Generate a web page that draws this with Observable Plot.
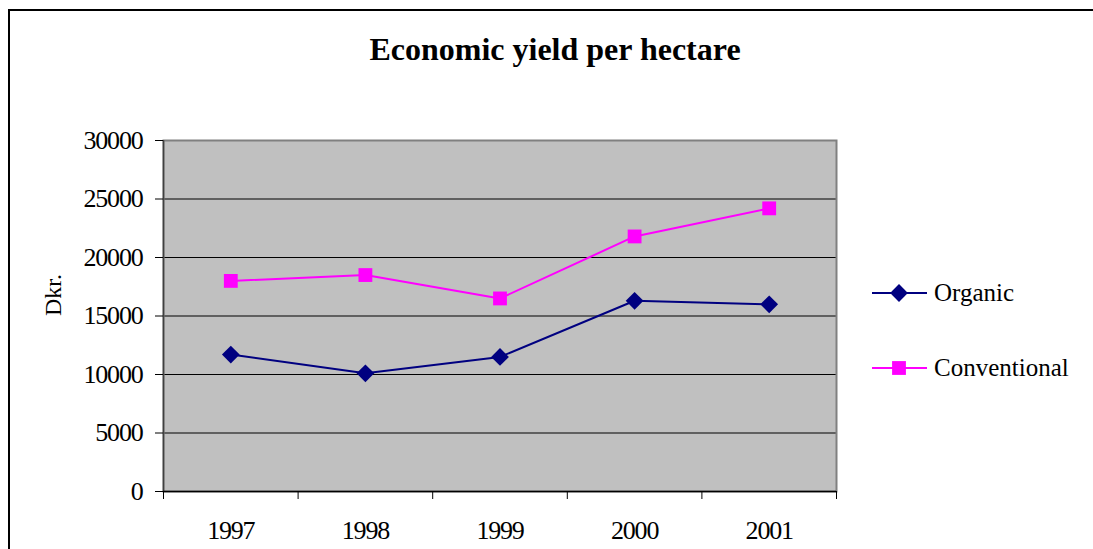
<!DOCTYPE html>
<html>
<head>
<meta charset="utf-8">
<script src="https://cdn.jsdelivr.net/npm/d3@7"></script>
<script src="https://cdn.jsdelivr.net/npm/@observablehq/plot@0.6"></script>
<style>
  html, body { margin: 0; padding: 0; background: #fff; }
  #wrap { position: relative; width: 1093px; height: 549px; overflow: hidden; font-family: "Liberation Serif", "Times New Roman", serif; }
  #frame { position: absolute; left: 8px; top: 9px; width: 1200px; height: 700px; border-top: 2px solid #000; border-left: 2px solid #000; box-sizing: border-box; }
  #chart { position: absolute; left: 0; top: 0; }
  #chart svg text { font-family: "Liberation Serif", "Times New Roman", serif; fill: #000; }
  #chart svg [aria-label="y-axis tick label"] text, #chart svg [aria-label="x-axis tick label"] text { font-size: 26px; letter-spacing: -1.2px; }
  #title { position: absolute; left: 0; width: 1110px; top: 33px; text-align: center; font-weight: bold; font-size: 32px; line-height: 32px; color: #000; }
  .leg { position: absolute; left: 870px; height: 30px; display: flex; align-items: center; font-size: 25px; color: #000; }
  .leg svg { margin-right: 6px; }
</style>
</head>
<body>
<div id="wrap">
  <div id="frame"></div>
  <div id="chart"></div>
  <div id="title">Economic yield per hectare</div>
  <div id="legend"></div>
</div>
<script>
const years = [1997, 1998, 1999, 2000, 2001];
const organic = [11700, 10100, 11500, 16300, 16000];
const conventional = [18000, 18500, 16500, 21800, 24200];
const yTicks = [0, 5000, 10000, 15000, 20000, 25000, 30000];
const seriesNames = ["Organic", "Conventional"];
const seriesColors = ["#000080", "#FF00FF"];
const seriesSymbols = ["diamond2", "square"];
const seriesR = [8, 7.8];

const data = [];
years.forEach((yr, i) => {
  data.push({year: yr, value: organic[i], series: "Organic"});
  data.push({year: yr, value: conventional[i], series: "Conventional"});
});
const bounds = years.map(y => y - 0.5).concat([years[years.length - 1] + 0.5]);

const chart = Plot.plot({
  width: 1093,
  height: 549,
  marginLeft: 163,
  marginRight: 257,
  marginTop: 140,
  marginBottom: 58,
  style: {fontFamily: "'Liberation Serif', 'Times New Roman', serif", fontSize: "24px", background: "transparent", color: "#000"},
  x: {domain: [bounds[0], bounds[bounds.length - 1]]},
  y: {domain: [0, 30000]},
  marks: [
    Plot.frame({fill: "#C0C0C0", stroke: "none"}),
    Plot.gridY({ticks: yTicks, stroke: "#000", strokeOpacity: 1, strokeWidth: 1}),
    Plot.frame({stroke: "#808080", strokeWidth: 2, fill: "none"}),
    Plot.ruleX([bounds[0]], {stroke: "#404040", strokeWidth: 1.5}),
    Plot.ruleY([0], {stroke: "#000", strokeWidth: 1.5}),
    Plot.axisY({ticks: yTicks, tickSize: 8, tickPadding: 13, fontSize: 26, label: null, tickFormat: d => String(d)}),
    Plot.axisX({ticks: bounds, tickSize: 8, tickFormat: () => "", label: null}),
    Plot.axisX({ticks: years, tickSize: 0, tickPadding: 29.5, fontSize: 26, label: null, tickFormat: d => String(d)}),
    Plot.text(["Dkr."], {frameAnchor: "left", dx: -110, rotate: -90, fontSize: 24}),
    ...seriesNames.map((name, k) =>
      Plot.line(data.filter(d => d.series === name), {x: "year", y: "value", stroke: seriesColors[k], strokeWidth: 2})
    ),
    ...seriesNames.map((name, k) =>
      Plot.dot(data.filter(d => d.series === name), {x: "year", y: "value", fill: seriesColors[k], stroke: "none", symbol: seriesSymbols[k], r: seriesR[k]})
    )
  ]
});
document.getElementById("chart").appendChild(chart);

// Legend
const legendTops = [278, 353];
const legendSymbols = [d3.symbolDiamond2, d3.symbolSquare];
const legend = d3.select("#legend");
seriesNames.forEach((name, k) => {
  const row = legend.append("div").attr("class", "leg").style("top", legendTops[k] + "px");
  const svg = row.append("svg").attr("width", 58).attr("height", 30);
  svg.append("line").attr("x1", 2).attr("x2", 57).attr("y1", 15).attr("y2", 15)
     .attr("stroke", seriesColors[k]).attr("stroke-width", 2);
  const sym = d3.symbol(legendSymbols[k], Math.PI * seriesR[k] * seriesR[k]);
  svg.append("path").attr("d", sym()).attr("transform", "translate(29,15)").attr("fill", seriesColors[k]);
  row.append("span").text(name);
});
</script>
</body>
</html>
